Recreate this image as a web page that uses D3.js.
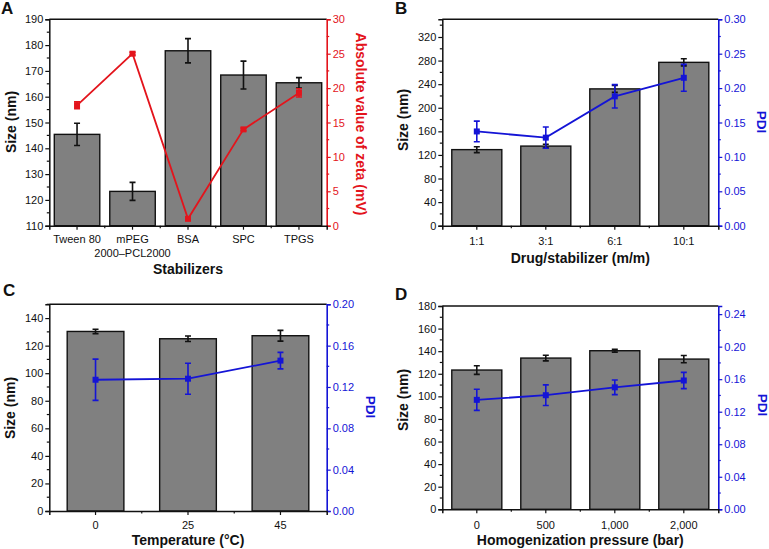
<!DOCTYPE html>
<html><head><meta charset="utf-8">
<script src="https://cdn.jsdelivr.net/npm/d3@7"></script>
<style>body{margin:0;background:#fff}svg{display:block}text{font-family:"Liberation Sans",Arial,sans-serif}</style>
</head><body>
<svg id="chart" width="769" height="549"></svg>
<script>
// ---- Data ----
const catA = ["Tween 80", "mPEG\n2000–PCL2000", "BSA", "SPC", "TPGS"];
const sizeA = [145.4, 123.3, 177.8, 168.4, 165.4];
const sizeErrA = [4.3, 3.5, 4.7, 5.4, 2.0];
const zetaA = [17.5, 25.0, 1.0, 14.0, 19.3];
const zetaErrA = [0.5, 0.2, 0.2, 0.2, 0.6];

const catB = ["1:1", "3:1", "6:1", "10:1"];
const sizeB = [129, 135, 232, 277];
const sizeErrB = [5, 3, 6, 6];
const pdiB = [0.137, 0.128, 0.188, 0.215];
const pdiErrB = [0.015, 0.0155, 0.017, 0.0195];

const catC = ["0", "25", "45"];
const sizeC = [130.3, 125.0, 127.2];
const sizeErrC = [1.6, 2.0, 3.9];
const pdiC = [0.127, 0.128, 0.1455];
const pdiErrC = [0.02, 0.015, 0.008];

const catD = ["0", "500", "1,000", "2,000"];
const sizeD = [123.3, 133.9, 140.4, 133.0];
const sizeErrD = [3.8, 2.5, 1.2, 3.2];
const pdiD = [0.1346, 0.1403, 0.150, 0.1584];
const pdiErrD = [0.013, 0.0127, 0.009, 0.010];

const ticksA = [110, 120, 130, 140, 150, 160, 170, 180, 190];
const ticksAR = [0, 5, 10, 15, 20, 25, 30];
const ticksB = [0, 40, 80, 120, 160, 200, 240, 280, 320];
const ticksBR = [0, 0.05, 0.10, 0.15, 0.20, 0.25, 0.30];
const ticksC = [0, 20, 40, 60, 80, 100, 120, 140];
const ticksCR = [0, 0.04, 0.08, 0.12, 0.16, 0.20];
const ticksD = [0, 20, 40, 60, 80, 100, 120, 140, 160, 180];
const ticksDR = [0, 0.04, 0.08, 0.12, 0.16, 0.20, 0.24];

const RED = "#e3141c", BLUE = "#1414d6";
const svg = d3.select("#chart");

function panel(o) {
  const g = svg.append("g");
  const x = d3.scaleBand().domain(o.cats).range([o.x0, o.x1])
    .paddingInner(o.pad).paddingOuter(o.pad / 2);
  const y = d3.scaleLinear().domain(o.yDom).range([o.y1, o.y0]);
  const y2 = d3.scaleLinear().domain(o.y2Dom).range([o.y1, o.y0]);
  const n = o.cats.length;

  // bars
  g.selectAll("rect.bar").data(o.cats).join("rect")
    .attr("x", d => x(d)).attr("width", x.bandwidth())
    .attr("y", (d, i) => y(o.size[i])).attr("height", (d, i) => o.y1 - y(o.size[i]))
    .attr("fill", "#808080").attr("stroke", "#111").attr("stroke-width", 1.4);
  // bar error bars
  o.cats.forEach((c, i) => {
    const cx = x(c) + x.bandwidth() / 2;
    const t = y(o.size[i] + o.sizeErr[i]), b = y(o.size[i] - o.sizeErr[i]);
    g.append("path").attr("d", `M${cx},${t}V${b}M${cx - 3},${t}H${cx + 3}M${cx - 3},${b}H${cx + 3}`)
      .attr("stroke", "#111").attr("stroke-width", 1.6).attr("fill", "none");
  });

  // frame: top border
  g.append("line").attr("x1", o.x0).attr("x2", o.x1).attr("y1", o.y0).attr("y2", o.y0)
    .attr("stroke", "#111").attr("stroke-width", 1.5);

  // left axis
  const yAx = g.append("g").attr("transform", `translate(${o.x0},0)`)
    .call(d3.axisLeft(y).tickValues(o.yTicks).tickFormat(d3.format("d")).tickSize(4).tickPadding(2));
  const minorL = d3.range(o.yDom[0], o.yDom[1] + 1e-9, o.yMinor).filter(v => !o.yTicks.some(t => Math.abs(t - v) < 1e-9));
  yAx.selectAll("line.minor").data(minorL).join("line").attr("class", "minor")
    .attr("x1", 0).attr("x2", -2.5).attr("y1", d => y(d)).attr("y2", d => y(d)).attr("stroke", "#111").attr("stroke-width", 1.2);
  yAx.select(".domain").attr("stroke", "#111").attr("stroke-width", 1.5);
  yAx.selectAll(".tick line").attr("stroke", "#111").attr("stroke-width", 1.2);
  yAx.selectAll(".tick text").attr("font-size", 11).attr("fill", "#111");

  // right axis
  const yR = g.append("g").attr("transform", `translate(${o.x1},0)`)
    .call(d3.axisRight(y2).tickValues(o.y2Ticks).tickFormat(d3.format(o.y2Fmt)).tickSize(4).tickPadding(2));
  const minorR = d3.range(o.y2Dom[0], o.y2Dom[1] + 1e-9, o.y2Minor).filter(v => !o.y2Ticks.some(t => Math.abs(t - v) < 1e-9));
  yR.selectAll("line.minor").data(minorR).join("line").attr("class", "minor")
    .attr("x1", 0).attr("x2", 2.5).attr("y1", d => y2(d)).attr("y2", d => y2(d)).attr("stroke", o.color).attr("stroke-width", 1.2);
  yR.select(".domain").attr("stroke", o.color).attr("stroke-width", 1.6);
  yR.selectAll(".tick line").attr("stroke", o.color).attr("stroke-width", 1.2);
  yR.selectAll(".tick text").attr("font-size", 11).attr("fill", o.color);

  // bottom axis
  const xAx = g.append("g").attr("transform", `translate(0,${o.y1})`)
    .call(d3.axisBottom(x).tickSize(4).tickFormat(""));
  xAx.select(".domain").attr("stroke", "#111").attr("stroke-width", 1.5);
  xAx.selectAll(".tick line").attr("stroke", "#111").attr("stroke-width", 1.2);
  xAx.selectAll("line.minor").data(d3.range(1, n)).join("line").attr("class", "minor")
    .attr("x1", i => x(o.cats[i]) - x.step() * x.paddingInner() / 2)
    .attr("x2", i => x(o.cats[i]) - x.step() * x.paddingInner() / 2)
    .attr("y1", 0).attr("y2", 2.5).attr("stroke", "#111").attr("stroke-width", 1.2);
  o.cats.forEach(c => {
    const lines = c.split("\n");
    const t = g.append("text").attr("x", x(c) + x.bandwidth() / 2).attr("y", o.catY)
      .attr("text-anchor", "middle").attr("font-size", 11).attr("fill", "#111");
    lines.forEach((l, k) => t.append("tspan").attr("x", x(c) + x.bandwidth() / 2).attr("dy", k ? 14 : 0).text(l));
  });

  // line series
  const pts = o.cats.map((c, i) => [x(c) + x.bandwidth() / 2, y2(o.line[i])]);
  g.append("path").attr("d", d3.line()(pts)).attr("stroke", o.color).attr("stroke-width", 1.8).attr("fill", "none");
  o.cats.forEach((c, i) => {
    const cx = x(c) + x.bandwidth() / 2;
    const t = y2(o.line[i] + o.lineErr[i]), b = y2(o.line[i] - o.lineErr[i]);
    g.append("path").attr("d", `M${cx},${t}V${b}M${cx - 3},${t}H${cx + 3}M${cx - 3},${b}H${cx + 3}`)
      .attr("stroke", o.color).attr("stroke-width", 1.6).attr("fill", "none");
    g.append("rect").attr("x", cx - 3).attr("y", y2(o.line[i]) - 3).attr("width", 6).attr("height", 6).attr("fill", o.color);
  });

  // titles
  g.append("text").attr("transform", `translate(${o.lTitleX},${o.lTitleY}) rotate(-90)`)
    .attr("text-anchor", "middle").attr("dominant-baseline", "central").attr("font-size", 14).attr("font-weight", "bold").attr("fill", "#111").text("Size (nm)");
  g.append("text").attr("transform", `translate(${o.rTitleX},${o.rTitleY}) rotate(90)`)
    .attr("text-anchor", "middle").attr("dominant-baseline", "central").attr("font-size", o.rTitleSize).attr("font-weight", "bold").attr("fill", o.color).text(o.rTitle);
  g.append("text").attr("x", (o.x0 + o.x1) / 2).attr("y", o.xTitleY).attr("text-anchor", "middle")
    .attr("font-size", 14).attr("font-weight", "bold").attr("fill", "#111").text(o.xTitle);
  g.append("text").attr("x", o.letterX).attr("y", o.letterY).attr("font-size", 17).attr("font-weight", "bold").attr("fill", "#111").text(o.letter);
}

panel({ cats: catA, size: sizeA, sizeErr: sizeErrA, line: zetaA, lineErr: zetaErrA,
  x0: 49.3, x1: 326.7, y0: 19.3, y1: 225.7, pad: 0.18,
  yDom: [110, 190], yTicks: ticksA, yMinor: 5, y2Dom: [0, 30], y2Ticks: ticksAR, y2Minor: 2.5, y2Fmt: "d",
  color: RED, catY: 243, xTitle: "Stabilizers", xTitleY: 274, rTitle: "Absolute value of zeta (mV)", rTitleSize: 14,
  lTitleX: 11, lTitleY: 122, rTitleX: 361, rTitleY: 124, letter: "A", letterX: 1, letterY: 14 });

panel({ cats: catB, size: sizeB, sizeErr: sizeErrB, line: pdiB, lineErr: pdiErrB,
  x0: 442.3, x1: 718.3, y0: 19.3, y1: 225.7, pad: 0.275,
  yDom: [0, 350], yTicks: ticksB, yMinor: 20, y2Dom: [0, 0.30], y2Ticks: ticksBR, y2Minor: 0.025, y2Fmt: ".2f",
  color: BLUE, catY: 245, xTitle: "Drug/stabilizer (m/m)", xTitleY: 263, rTitle: "PDI", rTitleSize: 13.5,
  lTitleX: 403, lTitleY: 120, rTitleX: 761, rTitleY: 122, letter: "B", letterX: 395, letterY: 14 });

panel({ cats: catC, size: sizeC, sizeErr: sizeErrC, line: pdiC, lineErr: pdiErrC,
  x0: 49.3, x1: 326.7, y0: 304.3, y1: 511, pad: 0.387,
  yDom: [0, 150], yTicks: ticksC, yMinor: 10, y2Dom: [0, 0.20], y2Ticks: ticksCR, y2Minor: 0.02, y2Fmt: ".2f",
  color: BLUE, catY: 529, xTitle: "Temperature (°C)", xTitleY: 545, rTitle: "PDI", rTitleSize: 13.5,
  lTitleX: 10, lTitleY: 408, rTitleX: 370, rTitleY: 407, letter: "C", letterX: 3, letterY: 296 });

panel({ cats: catD, size: sizeD, sizeErr: sizeErrD, line: pdiD, lineErr: pdiErrD,
  x0: 442.3, x1: 718.3, y0: 306, y1: 509.3, pad: 0.275,
  yDom: [0, 180], yTicks: ticksD, yMinor: 10, y2Dom: [0, 0.25], y2Ticks: ticksDR, y2Minor: 0.02, y2Fmt: ".2f",
  color: BLUE, catY: 529, xTitle: "Homogenization pressure (bar)", xTitleY: 545, rTitle: "PDI", rTitleSize: 13.5,
  lTitleX: 403, lTitleY: 400, rTitleX: 762, rTitleY: 405, letter: "D", letterX: 395, letterY: 300 });
</script>
</body></html>
